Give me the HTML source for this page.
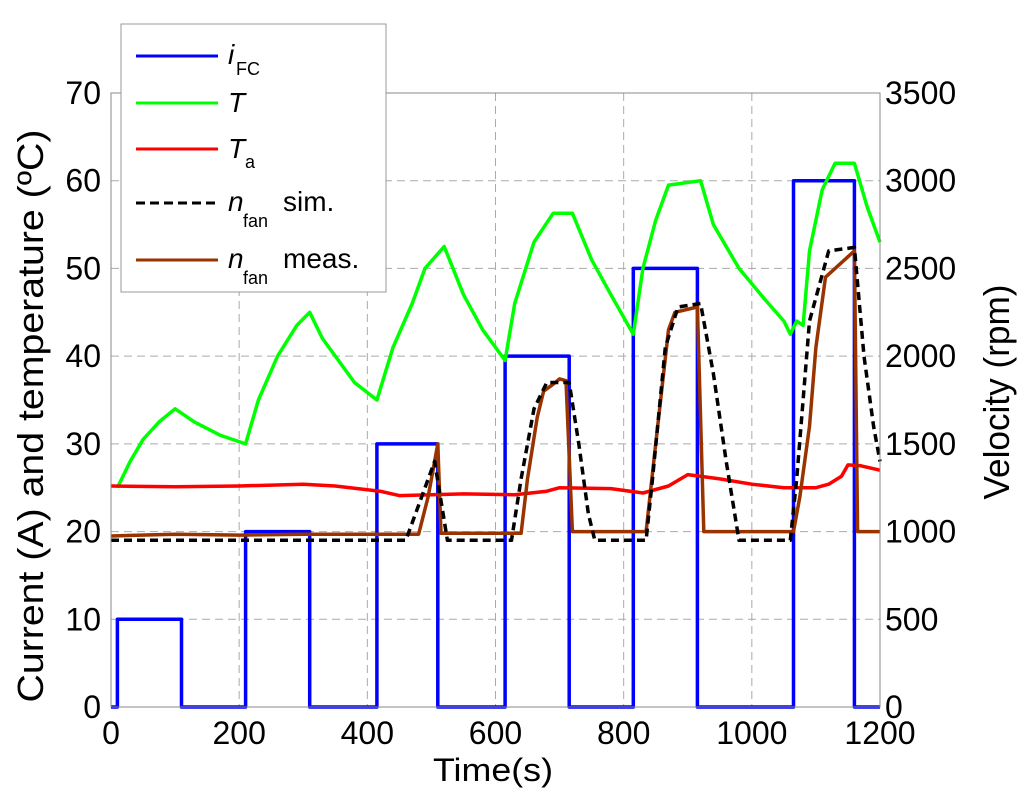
<!DOCTYPE html>
<html><head><meta charset="utf-8"><style>
body{margin:0;background:#fff}
svg text{font-family:"Liberation Sans",Arial,sans-serif;fill:#000}
</style></head><body>
<svg id="chart" width="1024" height="805">
<rect width="1024" height="805" fill="#fff"/>
<g id="grid"></g>
<g id="plot"></g>
<g id="axes"></g>
<text x="43" y="416" font-size="36" text-anchor="middle" textLength="573" lengthAdjust="spacingAndGlyphs" transform="rotate(-90 43 416)">Current (A) and temperature (ºC)</text>
<text x="1009" y="392" font-size="36" text-anchor="middle" textLength="215" lengthAdjust="spacingAndGlyphs" transform="rotate(-90 1009 392)">Velocity (rpm)</text>
<text x="493" y="781" font-size="32" text-anchor="middle" textLength="120" lengthAdjust="spacingAndGlyphs">Time(s)</text>
<g>
<rect x="121" y="24" width="265" height="268" fill="#fff" stroke="#999" stroke-width="1"/>
<line x1="136" y1="56" x2="218" y2="56" stroke="#0000ff" stroke-width="3"/>
<text x="228" y="64" font-size="28" font-style="italic">i</text><text x="236" y="75" font-size="18">FC</text>
<line x1="136" y1="103" x2="218" y2="103" stroke="#00ff00" stroke-width="3"/>
<text x="228" y="112" font-size="28" font-style="italic">T</text>
<line x1="136" y1="149" x2="218" y2="149" stroke="#ff0000" stroke-width="3"/>
<text x="228" y="158" font-size="28" font-style="italic">T</text><text x="245" y="168" font-size="18">a</text>
<line x1="136" y1="203" x2="218" y2="203" stroke="#000" stroke-width="3" stroke-dasharray="9,5"/>
<text x="228" y="211" font-size="28" font-style="italic">n</text><text x="243" y="227" font-size="18">fan</text><text x="283" y="211" font-size="28">sim.</text>
<line x1="136" y1="260" x2="218" y2="260" stroke="#993300" stroke-width="3"/>
<text x="228" y="268" font-size="28" font-style="italic">n</text><text x="243" y="284" font-size="18">fan</text><text x="283" y="268" font-size="28">meas.</text>
</g>
</svg>
<script>
const xTicks=[0,200,400,600,800,1000,1200];
const yTicks=[0,10,20,30,40,50,60,70];
const y2Ticks=[0,500,1000,1500,2000,2500,3000,3500];
const iT=[0,10,10,110,110,210,210,310,310,415,415,510,510,615,615,715,715,815,815,915,915,1065,1065,1160,1160,1200];
const iV=[0,0,10,10,0,0,20,20,0,0,30,30,0,0,40,40,0,0,50,50,0,0,60,60,0,0];
const tT=[10,30,50,75,100,130,170,210,230,260,290,310,330,350,380,415,440,470,490,520,550,580,615,630,660,690,720,750,780,815,830,850,870,920,940,980,1020,1050,1060,1070,1080,1090,1110,1130,1160,1180,1200];
const tV=[25,28,30.5,32.5,34,32.5,31,30,35,40,43.5,45,42,40,37,35,41,46,50,52.5,47,43,39.5,46,53,56.3,56.3,51,47,42.5,50,55.5,59.5,60,55,50,46.5,44,42.5,44,43.5,52,59,62,62,57,53];
const taT=[0,100,200,300,350,420,450,550,630,680,700,780,830,870,900,950,1000,1050,1100,1120,1140,1150,1170,1200];
const taV=[25.2,25.1,25.2,25.4,25.2,24.6,24.1,24.3,24.2,24.6,25.0,24.9,24.4,25.2,26.5,26.0,25.4,25.0,25.0,25.4,26.3,27.6,27.5,27.0];
const simT=[0,460,480,505,525,625,640,660,680,715,730,745,755,835,845,865,885,920,940,960,980,1060,1070,1090,1120,1160,1175,1190,1200];
const simV=[950,950,1150,1400,950,950,1300,1700,1850,1850,1500,1100,950,950,1300,2050,2280,2300,1900,1400,950,950,1300,2200,2600,2620,2000,1600,1400];
const measT=[0,100,200,300,400,480,495,510,515,640,650,665,675,690,700,710,720,835,850,870,880,915,925,1065,1075,1090,1100,1115,1130,1160,1165,1200];
const measV=[975,985,980,985,985,985,1200,1500,990,990,1300,1650,1800,1840,1870,1860,1000,1000,1500,2150,2250,2280,1000,1000,1200,1600,2050,2450,2500,2600,1000,1000];
const L=111,R=880,T=93,B=707;
const X=t=>L+t/1200*(R-L), Y=v=>B-v/70*(B-T), Y2=v=>B-v/3500*(B-T);
const NS='http://www.w3.org/2000/svg';
function mk(p,tag,a){const e=document.createElementNS(NS,tag);for(const k in a)e.setAttribute(k,a[k]);p.appendChild(e);return e;}
const grid=document.getElementById('grid'),plot=document.getElementById('plot'),axes=document.getElementById('axes');
xTicks.forEach(t=>{if(t>0&&t<1200){const l=mk(grid,'line',{x1:X(t),x2:X(t),y1:T,y2:B,stroke:'#aaa','stroke-dasharray':'8,5'});

}
const tx=mk(axes,'text',{x:X(t),y:B+37,'font-size':32,'text-anchor':'middle'});tx.textContent=t;

});
yTicks.forEach(v=>{if(v>0&&v<70){const l=mk(grid,'line',{x1:L,x2:R,y1:Y(v),y2:Y(v),stroke:'#aaa','stroke-dasharray':'8,5'});

}
const tx=mk(axes,'text',{x:L-10,y:Y(v)+11,'font-size':32,'text-anchor':'end'});tx.textContent=v;

});
y2Ticks.forEach(v=>{const tx=mk(axes,'text',{x:R+5,y:Y2(v)+11,'font-size':32});tx.textContent=v;

});
const frame=mk(axes,'rect',{x:L,y:T,width:R-L,height:B-T,fill:'none',stroke:'#888'});


function line(ts,vs,yf,col,name,dash){const d=ts.map((t,i)=>(i?'L':'M')+X(t).toFixed(1)+','+yf(vs[i]).toFixed(1)).join('');
const p=mk(plot,'path',{d:d,fill:'none',stroke:col,'stroke-width':3.5,'stroke-linejoin':'round'});if(dash)p.setAttribute('stroke-dasharray',dash);

}
line(iT,iV,Y,'#0000ff','series-ifc');
line(tT,tV,Y,'#00ff00','series-t');
line(taT,taV,Y,'#ff0000','series-ta');
line(measT,measV,Y2,'#993300','series-nfan-meas');
line(simT,simV,Y2,'#000','series-nfan-sim','8,5');
</script>
</body></html>
